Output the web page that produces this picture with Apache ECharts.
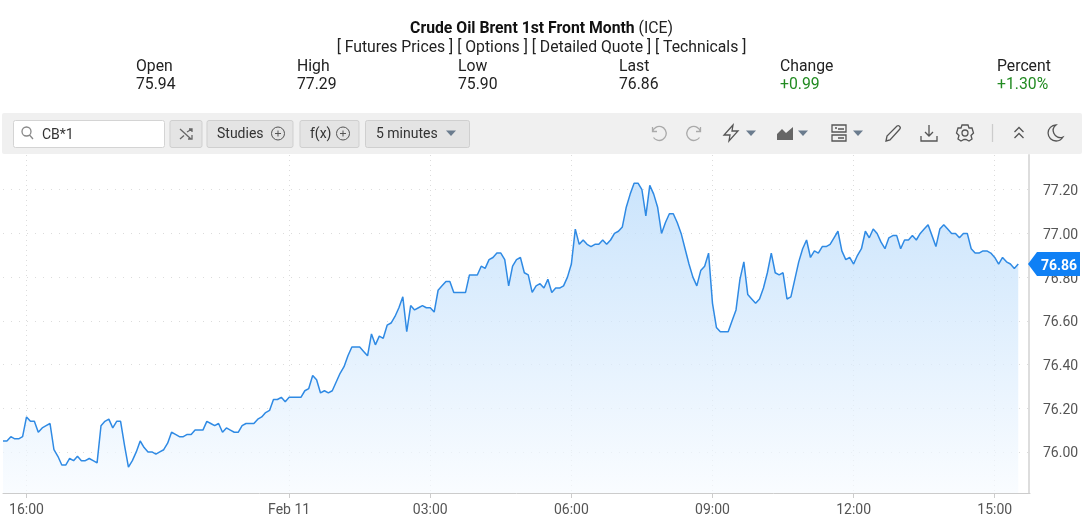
<![CDATA[<!DOCTYPE html>
<html lang="en" style="height: 100%">
<head>
  <meta charset="utf-8">
  <title>Crude Oil Brent 1st Front Month (ICE)</title>
</head>
<body style="height: 100%; margin: 0; background: #fff">

  <div id="chart_div" style="width: 1087px; height: 519px;"></div>

  <script type="text/javascript" src="https://fastly.jsdelivr.net/npm/echarts@6/dist/echarts.min.js"></script>
  <script type="text/javascript">
    // 5 minute closes, read off the picture
    var prices = [
      76.05, 76.05, 76.07, 76.06, 76.06, 76.07, 76.16, 76.14, 76.14, 76.09,
      76.11, 76.12, 76.13, 76.01, 75.98, 75.94, 75.94, 75.97, 75.96, 75.98,
      75.96, 75.96, 75.97, 75.96, 75.95, 76.12, 76.14, 76.15, 76.11, 76.14,
      76.14, 76.03, 75.93, 75.96, 76.00, 76.05, 76.02, 76.00, 76.00, 75.99,
      76.00, 76.01, 76.04, 76.09, 76.08, 76.07, 76.07, 76.08, 76.08, 76.10,
      76.10, 76.10, 76.14, 76.13, 76.12, 76.13, 76.09, 76.11, 76.10, 76.09,
      76.09, 76.12, 76.13, 76.13, 76.13, 76.15, 76.16, 76.18, 76.19, 76.24,
      76.24, 76.25, 76.23, 76.25, 76.25, 76.25, 76.25, 76.28, 76.29, 76.35,
      76.33, 76.27, 76.28, 76.27, 76.28, 76.32, 76.36, 76.39, 76.44, 76.48,
      76.48, 76.48, 76.46, 76.44, 76.54, 76.49, 76.53, 76.52, 76.58, 76.59,
      76.62, 76.66, 76.71, 76.55, 76.67, 76.65, 76.66, 76.67, 76.66, 76.66,
      76.64, 76.74, 76.76, 76.78, 76.78, 76.73, 76.73, 76.73, 76.73, 76.81,
      76.81, 76.81, 76.85, 76.84, 76.88, 76.89, 76.91, 76.91, 76.88, 76.76,
      76.85, 76.88, 76.89, 76.82, 76.81, 76.73, 76.76, 76.77, 76.75, 76.79,
      76.73, 76.75, 76.75, 76.76, 76.80, 76.86, 77.02, 76.95, 76.97, 76.95,
      76.94, 76.95, 76.95, 76.97, 76.95, 76.97, 77.00, 77.01, 77.03, 77.12,
      77.18, 77.23, 77.23, 77.20, 77.08, 77.22, 77.18, 77.12, 77.00, 77.05,
      77.09, 77.09, 77.05, 77.00, 76.93, 76.86, 76.80, 76.76, 76.83, 76.85,
      76.91, 76.68, 76.57, 76.55, 76.55, 76.55, 76.60, 76.65, 76.79, 76.87,
      76.72, 76.70, 76.68, 76.70, 76.75, 76.82, 76.91, 76.82, 76.81, 76.82,
      76.70, 76.71, 76.79, 76.87, 76.93, 76.97, 76.89, 76.92, 76.91, 76.94,
      76.94, 76.95, 76.98, 77.01, 76.92, 76.88, 76.89, 76.86, 76.90, 76.93,
      77.01, 76.98, 77.02, 77.00, 76.96, 76.93, 76.98, 76.99, 76.99, 76.93,
      76.97, 76.97, 76.99, 76.97, 77.00, 77.02, 77.04, 76.99, 76.94, 77.02,
      77.04, 77.02, 77.00, 77.00, 76.98, 77.00, 77.00, 76.93, 76.91, 76.91,
      76.92, 76.92, 76.91, 76.89, 76.86, 76.89, 76.87, 76.86, 76.84, 76.86
    ];
    var priceTicks = [76.00, 76.20, 76.40, 76.60, 76.80, 77.00, 77.20];
    var timeTickIndex = [6, 73, 109, 145, 181, 217, 253];
    var timeTickLabels = ['16:00', 'Feb 11', '03:00', '06:00', '09:00', '12:00', '15:00'];
    var quoteNames = ['Open', 'High', 'Low', 'Last', 'Change', 'Percent'];
    var quoteValues = ['75.94', '77.29', '75.90', '76.86', '+0.99', '+1.30%'];
    var quoteX = [136, 297, 458, 619, 780, 997];
    var slots = 263; // room to the right of the last bar

    var categories = [];
    for (var i = 0; i < slots; i++) {
      var k = timeTickIndex.indexOf(i);
      categories.push(k >= 0 ? timeTickLabels[k] : 'b' + i);
    }

    var FONT = 'Roboto';
    var BLUE = '#0f80f5';
    var iconCount = 0;

    function label(x, y, text, o) {
      o = o || {};
      return {
        type: 'text', x: x, y: y, silent: true, z: 10,
        style: {
          text: text, fontFamily: FONT, fontSize: o.size || 15.75, fontWeight: o.weight || 'normal',
          fill: o.color || '#222', align: o.align || 'left', verticalAlign: 'middle', rich: o.rich
        }
      };
    }
    function box(x, y, w, h, fill, stroke) {
      return {
        type: 'rect', x: x, y: y, silent: true, z: 5,
        shape: { x: 0, y: 0, width: w, height: h, r: 2 },
        style: { fill: fill, stroke: stroke || null, lineWidth: 1 }
      };
    }
    // graphic has no plain path type, so each glyph gets registered as a shape
    function icon(x, y, d, o) {
      o = o || {};
      var name = 'toolIcon' + (iconCount++);
      echarts.graphic.registerShape(name, echarts.graphic.extendPath(d, {}));
      return {
        type: name, x: x, y: y, silent: true, z: 10,
        style: { fill: o.fill || 'none', stroke: o.fill ? 'none' : (o.color || '#555'), lineWidth: o.width || 1.3 }
      };
    }
    function caret(x, y) {
      return icon(x, y, 'M-5,-2.5 L5,-2.5 L0,3 Z', { fill: '#6b7c8e' });
    }
    var plus = 'M-6.5,0 A6.5,6.5 0 1 1 6.5,0 A6.5,6.5 0 1 1 -6.5,0 Z M-3,0 L3,0 M0,-3 L0,3';

    var header = [
      label(541.5, 29.5, '{b|Crude Oil Brent 1st Front Month} {n|(ICE)}', {
        align: 'center',
        rich: {
          b: { fontFamily: FONT, fontSize: 15.75, fontWeight: 'bold', fill: '#111' },
          n: { fontFamily: FONT, fontSize: 15.75, fill: '#222' }
        }
      }),
      label(541.5, 48.5, '[ Futures Prices ] [ Options ] [ Detailed Quote ] [ Technicals ]', { align: 'center' })
    ];
    quoteNames.forEach(function (name, n) {
      header.push(label(quoteX[n], 67.5, name));
      header.push(label(quoteX[n], 85.5, quoteValues[n], { color: n >= 4 ? '#228b22' : '#222' }));
    });

    var toolbar = [
      box(2, 113, 1080, 41, '#f0f0f0'),
      box(13.5, 120.5, 151, 27, '#fff', '#d4d4d4'),
      icon(27, 133, 'M-5,-1.5 A4.5,4.5 0 1 1 4,-1.5 A4.5,4.5 0 1 1 -5,-1.5 Z M2.5,2 L6,6', { color: '#888' }),
      label(42, 135, 'CB*1', { size: 14, color: '#333' }),
      box(170, 120.5, 32, 27, '#e4e4e4', '#cfcfcf'),
      icon(186, 134, 'M-6,-5 L5,5 M2,5 L6,5 L6,1 M-6,5 L-2,1.5 M1,-2 L6,-5 M3,-5 L6,-5 L6,-2', { color: '#666' }),
      box(207, 120.5, 86, 27, '#e4e4e4', '#cfcfcf'),
      label(217, 134.5, 'Studies', { size: 14, color: '#333' }),
      icon(278, 133.5, plus, { color: '#555', width: 1 }),
      box(300, 120.5, 59, 27, '#e4e4e4', '#cfcfcf'),
      label(310, 134.5, 'f(x)', { size: 14, color: '#333' }),
      icon(343, 133.5, plus, { color: '#555', width: 1 }),
      box(365.5, 120.5, 104, 27, '#e4e4e4', '#cfcfcf'),
      label(376, 134.5, '5 minutes', { size: 14, color: '#333' }),
      caret(451, 133),
      icon(658, 133, 'M-5.5,-6 L-5.5,-1.5 L-1,-1.5 M-5.5,-1.5 A7,7 0 1 1 -4.5,4.5', { color: '#aaa' }),
      icon(695, 133, 'M5.5,-6 L5.5,-1.5 L1,-1.5 M5.5,-1.5 A7,7 0 1 0 4.5,4.5', { color: '#aaa' }),
      icon(731, 133, 'M2,-8 L-7,2 L-1,2 L-2,8 L7,-2 L1,-2 Z'),
      caret(751, 133),
      icon(785, 133, 'M-8,7 L-8,1 L-3,-4 L1,0 L8,-6 L8,7 Z', { fill: '#666' }),
      caret(803, 133),
      icon(839, 133, 'M-7,-8 L7,-8 L7,-1 L-7,-1 Z M-7,2 L7,2 L7,8 L-7,8 Z M-4,-5 L-2,-5 M-1,-4 L5,-4 M-1,5 L5,5'),
      caret(858, 133),
      icon(893, 133, 'M-7,8 L-6,3 L4,-7 Q6,-8 7,-6 Q8,-5 6,-3 L-3,7 Z'),
      icon(929, 133, 'M0,-8 L0,3 M-4,-1 L0,3 L4,-1 M-8,3 L-8,8 L8,8 L8,3'),
      icon(965, 133, 'M-3,-8 L3,-8 L4,-5 L7,-5 L8.5,0 L6,2.5 L7,6 L4,8 L1,6.5 L-1,6.5 L-4,8 L-7,6 L-6,2.5 L-8.5,0 L-7,-5 L-4,-5 Z M-3,0 A3,3 0 1 1 3,0 A3,3 0 1 1 -3,0 Z'),
      icon(992.5, 133, 'M0,-9 L0,9', { color: '#ccc' }),
      icon(1019, 133, 'M-4.5,-1 L0,-5.5 L4.5,-1 M-4.5,5 L0,0.5 L4.5,5'),
      icon(1055, 133, 'M1,-8 A8,8 0 1 0 8,4 A7,7 0 0 1 1,-8 Z')
    ];

    var dom = document.getElementById('chart_div');
    var myChart = echarts.init(dom, null, { renderer: 'canvas' });

    var option = {
      animation: false,
      backgroundColor: '#fff',
      grid: { left: 3, top: 155, width: 1027, height: 338, containLabel: false },
      xAxis: {
        type: 'category',
        boundaryGap: false,
        data: categories,
        axisLine: { lineStyle: { color: '#ccc', width: 1 } },
        axisTick: {
          length: 5,
          lineStyle: { color: '#ccc' },
          interval: function (idx) { return timeTickIndex.indexOf(idx) >= 0; }
        },
        axisLabel: {
          margin: 10,
          fontFamily: FONT, fontSize: 14, color: '#555',
          interval: function (idx) { return timeTickIndex.indexOf(idx) >= 0; }
        },
        splitLine: {
          show: true,
          interval: function (idx) { return timeTickIndex.indexOf(idx) >= 0; },
          lineStyle: { color: '#dcdcdc', type: [1, 4] }
        }
      },
      yAxis: {
        type: 'value',
        position: 'right',
        offset: -1,
        min: 75.812,
        max: 77.359,
        axisLine: { show: true, lineStyle: { color: '#ddd', width: 2 } },
        axisTick: { show: false, customValues: priceTicks },
        axisLabel: {
          customValues: priceTicks,
          margin: 14,
          formatter: function (v) { return '{p|' + v.toFixed(2) + '}'; },
          rich: { p: { fontFamily: FONT, fontSize: 14, color: '#555', padding: [4, 0, 0, 0] } }
        },
        splitLine: { show: true, lineStyle: { color: '#dcdcdc', type: [1, 7] } }
      },
      series: [{
        type: 'line',
        data: prices,
        symbol: 'none',
        smooth: false,
        lineStyle: { color: '#2f8ae4', width: 1.5 },
        areaStyle: {
          color: new echarts.graphic.LinearGradient(0, 0, 0, 1, [
            { offset: 0, color: '#b5d9fb' },
            { offset: 1, color: '#f7fbff' }
          ])
        }
      }]
    };
    myChart.setOption(option);

    // last price tag hangs on the y scale
    var last = prices[prices.length - 1];
    var tagY = myChart.convertToPixel({ yAxisIndex: 0 }, last);
    var tag = [
      {
        type: 'polygon', silent: true, z: 20,
        shape: { points: [[1028, tagY], [1037, tagY - 12], [1080, tagY - 12], [1080, tagY + 12], [1037, tagY + 12]] },
        style: { fill: BLUE }
      },
      label(1059, tagY + 2, last.toFixed(2), { size: 14, weight: 'bold', color: '#fff', align: 'center' })
    ];
    tag[1].z = 21;
    myChart.setOption({ graphic: { elements: header.concat(toolbar, tag) } });
  </script>
</body>
</html>
]]>
